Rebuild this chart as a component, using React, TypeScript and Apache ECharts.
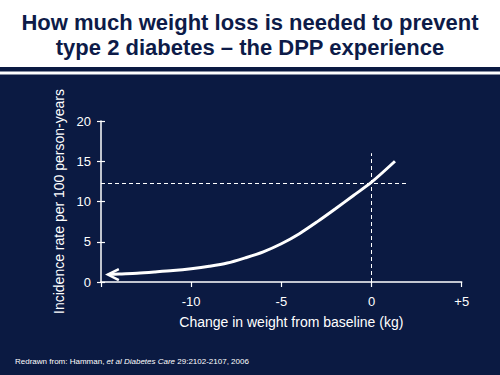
import React, { useEffect, useRef } from "react";
import * as echarts from "echarts";

const curveX = [-14.62, -14, -13, -12, -11, -10, -9, -8, -7, -6, -5, -4, -3, -2, -1, 0, 1.3];
const curveY = [0.93, 1.0, 1.1, 1.25, 1.42, 1.65, 1.95, 2.35, 3.0, 3.75, 4.75, 6.0, 7.5, 9.1, 10.75, 12.4, 15.0];
const refY = 12.3;
const hLineX = [-15, 2];
const vLineY = [0, 16];
const xTicks = [-15, -10, -5, 0, 5];
const xTickLabels = ["", "-10", "-5", "0", "+5"];

const NAVY = "#0b1a42";
const TITLE = "#0d1b48";
const FONT = "'Liberation Sans', Arial, sans-serif";

export default function App() {
  const ref = useRef<HTMLDivElement>(null);
  useEffect(() => {
    const chart = echarts.init(ref.current!, null, { renderer: "svg" });
    const data = curveX.map((x, i) =>
      i === 0
        ? {
            value: [x, curveY[i]],
            symbol: "path://M10,0 L0,5 L10,10",
            symbolSize: [11, 11],
            symbolOffset: ["50%", 0],
            itemStyle: { color: "rgba(0,0,0,0)", borderColor: "#fff", borderWidth: 2.5 },
          }
        : { value: [x, curveY[i]] }
    );
    chart.setOption({
      animation: false,
      backgroundColor: NAVY,
      graphic: [
        { type: "rect", shape: { x: 0, y: 0, width: 500, height: 67 }, style: { fill: "#fff" } },
        { type: "rect", shape: { x: 0, y: 71.5, width: 500, height: 3 }, style: { fill: "#fff" } },
        {
          type: "text",
          x: 250,
          y: 22,
          style: {
            text: "How much weight loss is needed to prevent",
            fill: TITLE,
            font: `bold 22px ${FONT}`,
            align: "center",
            verticalAlign: "middle",
          },
        },
        {
          type: "text",
          x: 250,
          y: 47,
          style: {
            text: "type 2 diabetes \u2013 the DPP experience",
            fill: TITLE,
            font: `bold 22px ${FONT}`,
            align: "center",
            verticalAlign: "middle",
          },
        },
        {
          type: "text",
          x: 15,
          y: 361,
          style: {
            text: "{a|Redrawn from: Hamman, }{i|et al Diabetes Care}{a| 29:2102-2107, 2006}",
            verticalAlign: "middle",
            fill: "#fff",
            rich: {
              a: { fill: "#ffffff", color: "#ffffff", fontSize: 8, fontFamily: FONT },
              i: { fill: "#ffffff", color: "#ffffff", fontSize: 8, fontStyle: "italic", fontFamily: FONT },
            },
          },
        },
      ],
      grid: { left: 101, right: 38.3, top: 121, bottom: 93, containLabel: false },
      xAxis: {
        type: "value",
        min: -15,
        max: 5,
        interval: 5,
        name: "Change in weight from baseline (kg)",
        nameLocation: "middle",
        nameGap: 33,
        nameTextStyle: {
          color: "#fff",
          fontSize: 14,
          fontFamily: FONT,
          padding: [0, 0, 0, 20],
        },
        axisLine: { onZero: false, lineStyle: { color: "#fff", width: 1.5 } },
        axisTick: { show: true, length: 5, lineStyle: { color: "#fff", width: 1.2 } },
        axisLabel: {
          color: "#fff",
          fontSize: 13,
          margin: 13,
          fontFamily: FONT,
          formatter: (v: number) => {
            const i = xTicks.indexOf(v);
            return i >= 0 ? xTickLabels[i] : "";
          },
        },
        splitLine: { show: false },
      },
      yAxis: [
        {
          type: "value",
          min: 0,
          max: 20,
          interval: 5,
          name: "Incidence rate per 100 person-years",
          nameLocation: "middle",
          nameGap: 35,
          nameTextStyle: { color: "#fff", fontSize: 14, fontFamily: FONT },
          axisLine: { show: true, onZero: false, lineStyle: { color: "#fff", width: 1.5 } },
          axisTick: { show: true, length: 4, lineStyle: { color: "#fff", width: 1.2 } },
          axisLabel: { color: "#fff", fontSize: 13, margin: 10, fontFamily: FONT },
          splitLine: { show: false },
        },
        {
          type: "value",
          min: 0,
          max: 20,
          interval: 5,
          position: "left",
          offset: 0,
          axisLine: { show: false, onZero: false },
          axisTick: { show: true, inside: true, length: 4, lineStyle: { color: "#fff", width: 1.2 } },
          axisLabel: { show: false },
          splitLine: { show: false },
        },
      ],
      series: [
        {
          type: "line",
          smooth: 0.3,
          symbol: "none",
          data,
          lineStyle: { color: "#fff", width: 3 },
          markLine: {
            silent: true,
            symbol: "none",
            label: { show: false },
            lineStyle: { color: "#fff", width: 1, type: [4, 3] },
            data: [
              [{ coord: [hLineX[0], refY] }, { coord: [hLineX[1], refY] }],
              [{ coord: [0, vLineY[0]] }, { coord: [0, vLineY[1]] }],
            ],
          },
        },
      ],
    });
    return () => chart.dispose();
  }, []);
  return (
    <div
      ref={ref}
      style={{ position: "fixed", left: 0, top: 0, width: 500, height: 375 }}
    />
  );
}
